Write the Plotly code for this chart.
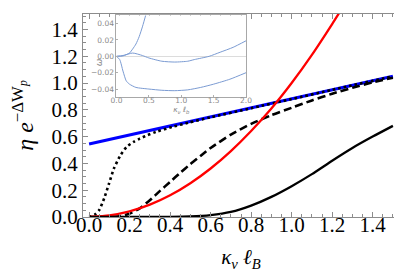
import plotly.graph_objects as go

# ---- main panel data ----
blue_x = [0.0, 1.5]
blue_y = [0.545, 1.05]

dot_x = [0.0, 0.011, 0.03, 0.051, 0.075, 0.099, 0.123, 0.155, 0.186, 0.22, 0.25, 0.29, 0.33, 0.41, 0.49, 0.6, 0.8, 1.0, 1.2, 1.5]
dot_y = [0.0, 0.005, 0.02, 0.054, 0.141, 0.252, 0.363, 0.461, 0.524, 0.560, 0.585, 0.612, 0.635, 0.672, 0.704, 0.744, 0.812, 0.880, 0.949, 1.05]

dash_x = [0.0, 0.1, 0.15, 0.2, 0.25, 0.3, 0.35, 0.4, 0.45, 0.5, 0.55, 0.6, 0.7, 0.8, 0.9, 1.0, 1.1, 1.2, 1.3, 1.4, 1.5]
dash_y = [0.0, 0.0, 0.005, 0.025, 0.065, 0.125, 0.195, 0.262, 0.33, 0.395, 0.455, 0.515, 0.615, 0.695, 0.76, 0.815, 0.87, 0.92, 0.965, 1.005, 1.04]

red_x = [0.0, 0.1, 0.2, 0.3, 0.4, 0.5, 0.6, 0.7, 0.8, 0.9, 1.0, 1.1, 1.2, 1.25]
red_y = [0.0, 0.012, 0.042, 0.092, 0.162, 0.252, 0.362, 0.492, 0.642, 0.81, 1.0, 1.21, 1.44, 1.56]

black_x = [0.0, 0.3, 0.4, 0.5, 0.6, 0.7, 0.8, 0.9, 1.0, 1.1, 1.2, 1.3, 1.4, 1.5]
black_y = [0.0, 0.0, 0.001, 0.004, 0.014, 0.038, 0.085, 0.15, 0.23, 0.32, 0.42, 0.515, 0.6, 0.68]

# ---- inset data ----
inA_x = [0.0, 0.1, 0.2, 0.25, 0.3, 0.35, 0.4, 0.45, 0.5]
inA_y = [0.0, 0.0005, 0.004, 0.009, 0.015, 0.024, 0.036, 0.05, 0.065]

inB_x = [0.0, 0.1, 0.25, 0.4, 0.5, 0.7, 0.9, 1.1, 1.2, 1.43, 1.6, 1.8, 2.0]
inB_y = [0.0, 0.001, 0.004, 0.001, -0.002, -0.006, -0.007, -0.006, -0.004, 0.0, 0.005, 0.011, 0.019]

inC_x = [0.0, 0.05, 0.1, 0.15, 0.2, 0.3, 0.5, 0.7, 0.9, 1.1, 1.3, 1.5, 1.75, 2.0]
inC_y = [0.0, -0.004, -0.018, -0.03, -0.034, -0.038, -0.040, -0.0415, -0.042, -0.041, -0.038, -0.034, -0.028, -0.020]

xticks_main = [0.0, 0.2, 0.4, 0.6, 0.8, 1.0, 1.2, 1.4]
yticks_main = [0.0, 0.2, 0.4, 0.6, 0.8, 1.0, 1.2, 1.4]
xticks_in = [0.0, 0.5, 1.0, 1.5, 2.0]
yticks_in = [-0.04, -0.02, 0.0, 0.02, 0.04]

serif = "Liberation Serif"
frame = "#8c8c8c"
inset_col = "#7b9bd2"
inset_txt = "#8a8a8a"

fig = go.Figure()
fig.add_trace(go.Scatter(x=blue_x, y=blue_y, mode="lines", line=dict(color="#0000ff", width=3)))
fig.add_trace(go.Scatter(x=dot_x, y=dot_y, mode="lines", line=dict(color="black", width=2.6, dash="2.6px,3px", shape="spline", smoothing=0.6)))
fig.add_trace(go.Scatter(x=dash_x, y=dash_y, mode="lines", line=dict(color="black", width=2.6, dash="8px,4px", shape="spline", smoothing=0.6)))
fig.add_trace(go.Scatter(x=red_x, y=red_y, mode="lines", line=dict(color="#ff0000", width=2.3, shape="spline", smoothing=0.6)))
fig.add_trace(go.Scatter(x=black_x, y=black_y, mode="lines", line=dict(color="black", width=2.3, shape="spline", smoothing=0.6)))

for xs, ys in [(inA_x, inA_y), (inB_x, inB_y), (inC_x, inC_y)]:
    fig.add_trace(go.Scatter(x=xs, y=ys, mode="lines", xaxis="x2", yaxis="y2",
                             line=dict(color=inset_col, width=1, shape="spline", smoothing=0.6)))

fig.update_layout(
    width=402, height=273,
    margin=dict(l=68, r=7, t=5, b=64),
    paper_bgcolor="white", plot_bgcolor="white",
    showlegend=False,
    xaxis=dict(range=[-0.03, 1.53], tickvals=xticks_main, ticktext=[f"{v:.1f}" for v in xticks_main],
               ticks="inside", ticklen=5, tickwidth=1, tickcolor=frame,
               minor=dict(ticks="inside", ticklen=3, dtick=0.05, tick0=0, tickcolor=frame),
               showline=True, linecolor=frame, linewidth=1, mirror="ticks",
               showgrid=False, zeroline=False, ticklabelstandoff=-11,
               tickfont=dict(family=serif, size=21, color="black"),
               title=dict(text="<i>κ</i><sub><i>ν</i></sub> <i>ℓ</i><sub><i>B</i></sub>",
                          font=dict(family=serif, size=21, color="black"), standoff=13)),
    yaxis=dict(range=[0, 1.515], tickvals=yticks_main, ticktext=[f"{v:.1f}" for v in yticks_main],
               ticks="inside", ticklen=5, tickwidth=1, tickcolor=frame,
               minor=dict(ticks="inside", ticklen=3, dtick=0.05, tick0=0, tickcolor=frame),
               showline=True, linecolor=frame, linewidth=1, mirror="ticks",
               showgrid=False, zeroline=False,
               tickfont=dict(family=serif, size=21, color="black"),
               title=dict(text="<i>η</i> <i>e</i><sup>−ΔW<sub><i>p</i></sub></sup>",
                          font=dict(family=serif, size=24, color="black"), standoff=22)),
    xaxis2=dict(domain=[0.106, 0.516], anchor="y2", range=[0, 2], tickvals=xticks_in,
                ticktext=[f"{v:.1f}" for v in xticks_in],
                ticks="inside", ticklen=2, tickcolor="#b0b0b0",
                showline=True, linecolor="#a8a8a8", linewidth=1, mirror=True,
                showgrid=False, zeroline=False, ticklabelstandoff=-4,
                tickfont=dict(family="DejaVu Sans", size=7.5, color=inset_txt),
                title=dict(text="<i>κ</i><sub><i>ν</i></sub> <i>ℓ</i><sub><i>b</i></sub>",
                           font=dict(family="DejaVu Sans", size=7.5, color=inset_txt), standoff=0)),
    yaxis2=dict(domain=[0.59, 0.993], anchor="x2", range=[-0.05, 0.05], tickvals=yticks_in,
                ticktext=["−0.04", "−0.02", "0.00", "0.02", "0.04"],
                ticks="inside", ticklen=2, tickcolor="#b0b0b0",
                showline=True, linecolor="#a8a8a8", linewidth=1, mirror=True,
                showgrid=False, zeroline=True, zerolinecolor="#dcdcdc", zerolinewidth=1,
                tickfont=dict(family="DejaVu Sans", size=7.5, color=inset_txt)),
    annotations=[dict(text="<i>ω</i>", xref="paper", yref="paper", x=0.027, y=0.789,
                      showarrow=False, textangle=-90,
                      font=dict(family="DejaVu Sans", size=9, color=inset_txt))],
)

fig.write_html("out.html")
